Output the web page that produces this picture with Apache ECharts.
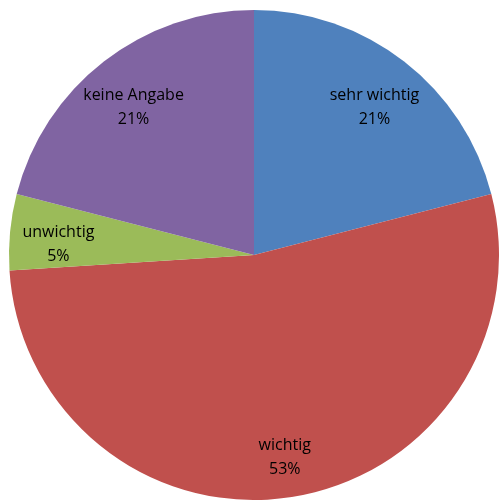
<!DOCTYPE html>
<html>
<head>
<meta charset="utf-8">
<script src="https://cdn.jsdelivr.net/npm/echarts@6/dist/echarts.min.js"></script>
<style>
  html, body { margin: 0; padding: 0; background: #fff; }
  #chart { width: 499px; height: 500px; }
</style>
</head>
<body>
<div id="chart"></div>
<script>
// Answer categories and their shares (percent)
const categories = ['sehr wichtig', 'wichtig', 'unwichtig', 'keine Angabe'];
const shares = [21, 53, 5, 21];
const colors = ['#4F81BD', '#C0504D', '#9BBB59', '#8064A2'];

const data = categories.map((name, i) => ({ name, value: shares[i] }));

const chart = echarts.init(document.getElementById('chart'), null, { renderer: 'canvas' });

const labelFont = {
  fontFamily: '"Open Sans", Lato, sans-serif',
  fontSize: 16,
  color: '#000',
  lineHeight: 24
};

chart.setOption({
  animation: false,
  color: colors,
  series: [
    {
      // the slices themselves
      type: 'pie',
      center: [254, 255],
      radius: [0, 245],
      startAngle: 90,
      clockwise: true,
      data: data,
      label: { show: false },
      labelLine: { show: false },
      itemStyle: { borderWidth: 0 },
      emphasis: { disabled: true }
    },
    {
      // transparent ring that carries the labels, set slightly lower
      type: 'pie',
      center: [254, 263],
      radius: [142, 245],
      startAngle: 90,
      clockwise: true,
      silent: true,
      data: data,
      itemStyle: { color: 'rgba(0,0,0,0)' },
      label: Object.assign({
        show: true,
        position: 'inside',
        formatter: '{b}\n{d}%'
      }, labelFont),
      labelLine: { show: false },
      emphasis: { disabled: true }
    }
  ]
});
</script>
</body>
</html>
